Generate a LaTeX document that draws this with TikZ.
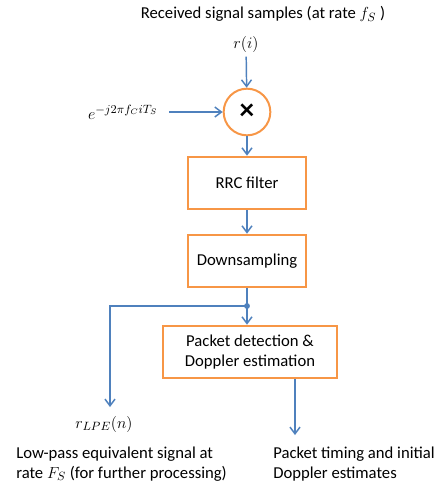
\documentclass[tikz,border=0pt]{standalone}
\usepackage{fontspec}
\setmainfont{Carlito}
\usetikzlibrary{arrows.meta, positioning}
\definecolor{boxorange}{RGB}{247,150,70}
\definecolor{lineblue}{RGB}{79,129,189}

\begin{document}
\begin{tikzpicture}[
    x=0.75pt, y=-0.75pt,
    >={Straight Barb[length=5pt, width=7.5pt]},
    block/.style={draw=boxorange, line width=1.5pt, rectangle, minimum width=89pt, minimum height=39.5pt, align=center, font=\fontsize{12.5}{15}\selectfont},
    mixer/.style={draw=boxorange, line width=1.5pt, circle, minimum size=35pt, inner sep=0pt, font=\fontsize{22}{22}\selectfont\bfseries},
    flow/.style={->, draw=lineblue, line width=1.1pt},
    labelStyle/.style={font=\fontsize{12.5}{14.5}\selectfont, align=left, text=black},
    mathStyle/.style={font=\fontsize{13}{15}\selectfont}
]
\useasboundingbox (0,0) rectangle (439,483);

% ----------------------------------------------------
% Input and mixing
% ----------------------------------------------------
\node[labelStyle] (title) at (263,14) {Received signal samples (at rate $f_S$ )};
\node[mathStyle] (ri) at (246,44) {$r(i)$};
\node[mixer] (mix) at (247,112) {×};
\node[mathStyle] (osc) at (123,112) {$e^{-j2\pi f_C iT_S}$};

\draw[flow] (ri) -- (mix);
\draw[flow, shorten <=5pt] (osc.east) -- (mix.west);

% ----------------------------------------------------
% Filtering chain
% ----------------------------------------------------
\node[block] (rrc) at (247,183) {RRC filter};
\node[block] (down) at (247,261) {Downsampling};
\node[block, minimum width=130pt] (pkt) at (250,352) {Packet detection \&\\Doppler estimation};

\draw[flow] (mix) -- (rrc);
\draw[flow] (rrc) -- (down);
\draw[flow] (down) -- (pkt.north -| down);

% ----------------------------------------------------
% Outputs
% ----------------------------------------------------
\coordinate (tap) at (247,306);
\coordinate (lpeEnd) at (110,407);
\coordinate (pktOut) at (295,435);
\fill[lineblue] (tap) circle (2.2pt);

\draw[flow] (tap) -| (lpeEnd);
\draw[flow] (pkt.south -| pktOut) -- (pktOut);

\node[mathStyle] (rlpe) at (104,424) {$r_{LPE}(n)$};
\node[labelStyle, anchor=west, inner sep=0pt] (lpeText) at (16,464) {Low-pass equivalent signal at\\rate $F_S$ (for further processing)};
\node[labelStyle, anchor=west, inner sep=0pt] (pktText) at (273,464) {Packet timing and initial\\Doppler estimates};

\end{tikzpicture}
\end{document}
